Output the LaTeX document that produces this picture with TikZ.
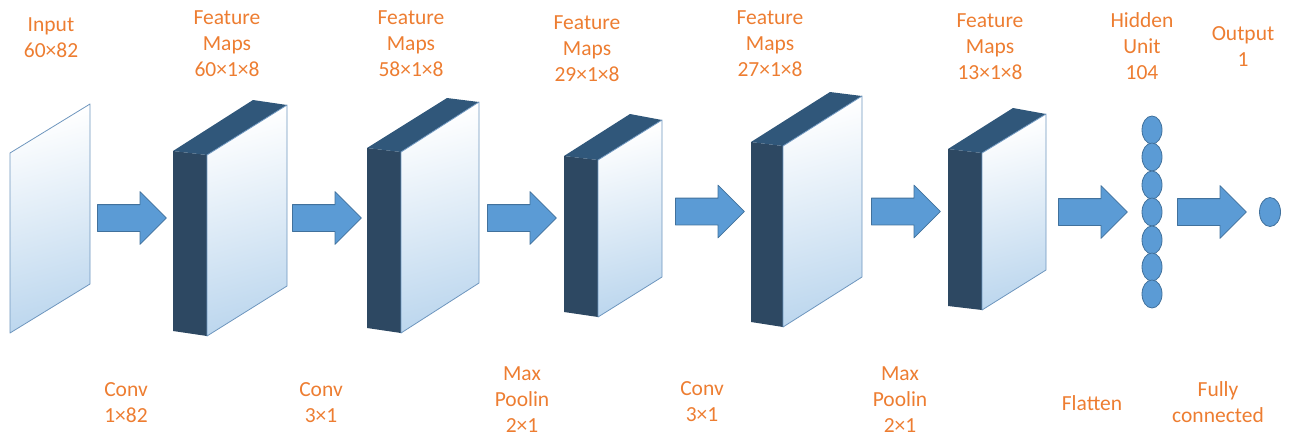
\documentclass[tikz,border=0pt]{standalone}
\usepackage{fontspec}
\setmainfont{Carlito}
\usetikzlibrary{shapes.arrows, shapes.geometric}

\definecolor{labelorange}{RGB}{237,125,49}
\definecolor{arrowblue}{RGB}{91,155,213}
\definecolor{arrowedge}{RGB}{65,113,156}
\definecolor{faceblue}{RGB}{189,215,238}
\definecolor{faceedge}{RGB}{110,150,190}
\definecolor{sidedark}{RGB}{45,72,98}
\definecolor{topdark}{RGB}{48,87,122}

\begin{document}
\begin{tikzpicture}[x=1pt,y=-1pt,line join=round,
		every node/.style={font=\fontsize{21.5}{26}\selectfont}]
		\tikzstyle{LabelStyle}=[text=labelorange, align=center, inner sep=0pt]
		\tikzstyle{ArrowStyle}=[single arrow, draw=arrowedge, fill=arrowblue, line width=0.8pt,
			inner xsep=0pt, inner ysep=13pt, minimum height=69, single arrow head extend=13,
			single arrow tip angle=90, anchor=tail]
		\tikzstyle{FaceStyle}=[draw=faceedge, line width=0.8pt, top color=white, bottom color=faceblue, shading angle=15]
		\tikzstyle{UnitStyle}=[ellipse, draw=arrowedge, fill=arrowblue, line width=0.8pt, inner sep=0pt,
			minimum width=20, minimum height=28]

		\useasboundingbox (0,0) rectangle (1289,437);

		% input plane
		\shadedraw[FaceStyle] (10,153) -- (90,104) -- (90,284) -- (10,333) -- cycle;

		% feature map 60x1x8
		\fill[sidedark] (173,151) -- (207,155) -- (207,336) -- (173,331) -- cycle;
		\fill[topdark] (173,151) -- (253,100) -- (287,105) -- (207,155) -- cycle;
		\shadedraw[FaceStyle] (207,155) -- (287,105) -- (287,286) -- (207,336) -- cycle;

		% feature map 58x1x8
		\fill[sidedark] (367,148) -- (401,152) -- (401,333) -- (367,328) -- cycle;
		\fill[topdark] (367,148) -- (447,98) -- (479,102) -- (401,152) -- cycle;
		\shadedraw[FaceStyle] (401,152) -- (479,102) -- (479,283) -- (401,333) -- cycle;

		% feature map 29x1x8
		\fill[sidedark] (564,156) -- (598,160) -- (598,317) -- (564,312) -- cycle;
		\fill[topdark] (564,156) -- (630,114) -- (662,120) -- (598,160) -- cycle;
		\shadedraw[FaceStyle] (598,160) -- (662,120) -- (662,277) -- (598,317) -- cycle;

		% feature map 27x1x8
		\fill[sidedark] (751,142) -- (783,146) -- (783,327) -- (751,322) -- cycle;
		\fill[topdark] (751,142) -- (830,92) -- (862,96) -- (783,146) -- cycle;
		\shadedraw[FaceStyle] (783,146) -- (862,96) -- (862,277) -- (783,327) -- cycle;

		% feature map 13x1x8
		\fill[sidedark] (948,149) -- (982,153) -- (982,310) -- (948,306) -- cycle;
		\fill[topdark] (948,149) -- (1013,108) -- (1046,114) -- (982,153) -- cycle;
		\shadedraw[FaceStyle] (982,153) -- (1046,114) -- (1046,270) -- (982,310) -- cycle;

		% block arrows
		\node[ArrowStyle] (conv1Arrow) at (97,218) {};
		\node[ArrowStyle] (conv2Arrow) at (292,218) {};
		\node[ArrowStyle] (pool1Arrow) at (487,218) {};
		\node[ArrowStyle] (conv3Arrow) at (675,211.5) {};
		\node[ArrowStyle] (pool2Arrow) at (871,211.5) {};
		\node[ArrowStyle] (flattenArrow) at (1058,212) {};
		\node[ArrowStyle] (fcArrow) at (1177,212) {};

		% hidden units and output
		\node[UnitStyle] (hidden1) at (1152,130) {};
		\node[UnitStyle] (hidden2) at (1152,157) {};
		\node[UnitStyle] (hidden3) at (1152,185) {};
		\node[UnitStyle] (hidden4) at (1152,212) {};
		\node[UnitStyle] (hidden5) at (1152,240) {};
		\node[UnitStyle] (hidden6) at (1152,267) {};
		\node[UnitStyle] (hidden7) at (1152,294) {};
		\node[UnitStyle, minimum width=21, minimum height=29] (output) at (1270,212) {};

		% top labels
		\node[LabelStyle] (inputLbl) at (51,37.5) {Input\\60×82};
		\node[LabelStyle] (fm1Lbl) at (227,43.5) {Feature\\Maps\\60×1×8};
		\node[LabelStyle] (fm2Lbl) at (411,43.5) {Feature\\Maps\\58×1×8};
		\node[LabelStyle] (fm3Lbl) at (587,48.5) {Feature\\Maps\\29×1×8};
		\node[LabelStyle] (fm4Lbl) at (770,44) {Feature\\Maps\\27×1×8};
		\node[LabelStyle] (fm5Lbl) at (990,46.5) {Feature\\Maps\\13×1×8};
		\node[LabelStyle] (hiddenLbl) at (1142,46.5) {Hidden\\Unit\\104};
		\node[LabelStyle] (outputLbl) at (1243,46.5) {Output\\1};

		% bottom labels
		\node[LabelStyle] (conv1Lbl) at (126,402.5) {Conv\\1×82};
		\node[LabelStyle] (conv2Lbl) at (321,402.5) {Conv\\3×1};
		\node[LabelStyle] (pool1Lbl) at (522,400) {Max\\Poolin\\2×1};
		\node[LabelStyle] (conv3Lbl) at (702,402) {Conv\\3×1};
		\node[LabelStyle] (pool2Lbl) at (900,400) {Max\\Poolin\\2×1};
		\node[LabelStyle] (flattenLbl) at (1092,403) {Flatten};
		\node[LabelStyle] (fcLbl) at (1218,402.5) {Fully\\connected};
	\end{tikzpicture}
\end{document}
